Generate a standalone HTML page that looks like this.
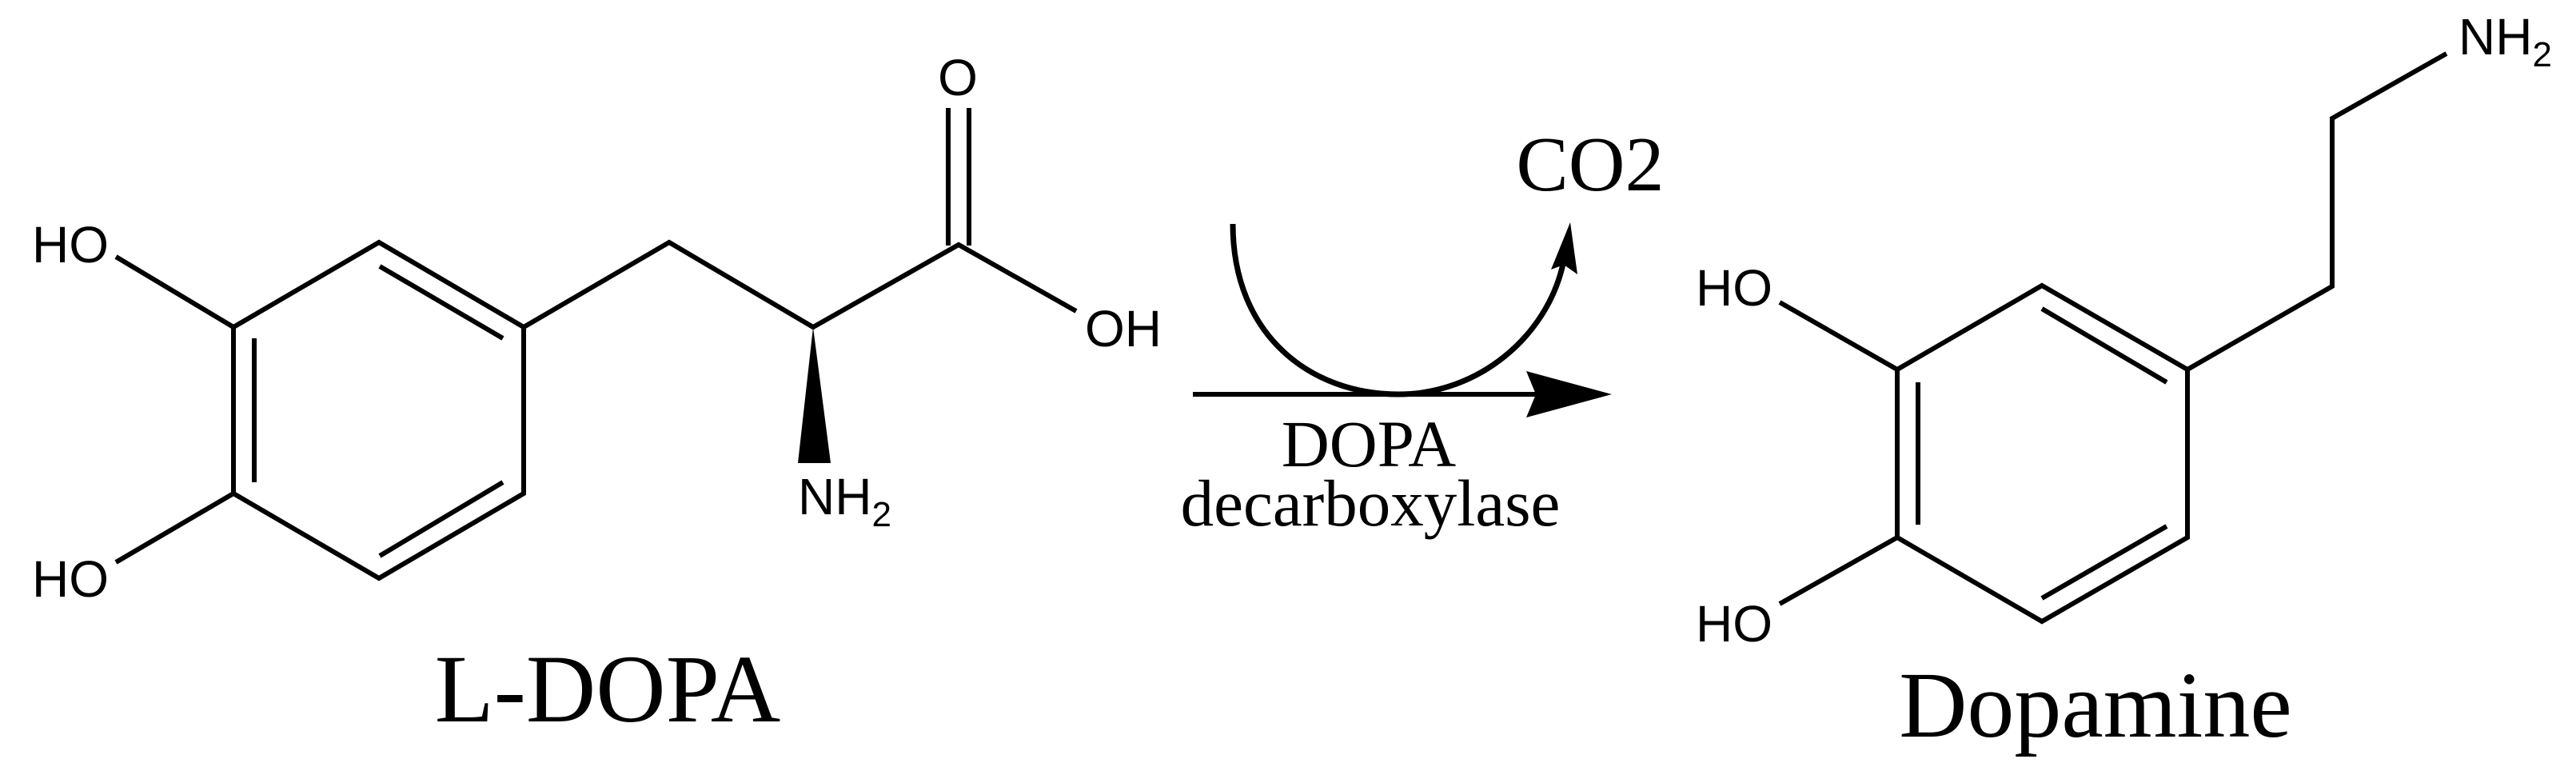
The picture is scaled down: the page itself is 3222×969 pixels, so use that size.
<!DOCTYPE html>
<html><head><meta charset="utf-8"><style>
html,body{margin:0;padding:0;background:#fff;}
svg{display:block;}
.s{font-family:"Liberation Sans",sans-serif;font-size:64px;}
.t{font-family:"Liberation Serif",serif;}
</style></head><body>
<svg width="3222" height="969" viewBox="0 0 3222 969" xmlns="http://www.w3.org/2000/svg">
<g stroke="#000" stroke-width="6" fill="none" stroke-linecap="butt" stroke-linejoin="miter">
<!-- L-DOPA ring -->
<polygon points="474,303 655,409 655,617 474,723 292,617 292,409"/>
<line x1="475" y1="333" x2="629" y2="423"/>
<line x1="318" y1="423" x2="318" y2="603"/>
<line x1="475" y1="695" x2="629" y2="603"/>
<line x1="145" y1="321" x2="292" y2="409"/>
<line x1="145" y1="703" x2="292" y2="617"/>
<polyline points="655,409 837,303 1017,409 1199,306 1346,389"/>
<line x1="1186" y1="135" x2="1186" y2="307"/>
<line x1="1212" y1="135" x2="1212" y2="307"/>
<!-- Dopamine -->
<polygon points="2554,357 2736,462 2736,672 2554,777 2373,672 2373,462"/>
<line x1="2554" y1="386" x2="2710" y2="478"/>
<line x1="2399" y1="478" x2="2399" y2="656"/>
<line x1="2554" y1="748" x2="2710" y2="658"/>
<line x1="2226" y1="378" x2="2373" y2="462"/>
<line x1="2226" y1="755" x2="2373" y2="672"/>
<polyline points="2736,462 2917,358 2917,148 3060,67"/>
<!-- arrows -->
<line x1="1492" y1="493" x2="1930" y2="493"/>
<path d="M1542 280 C1542 420 1640 493 1749 493 C1850 493 1935 420 1955 330" stroke-width="7"/>
</g>
<polygon points="1017,409 998,579 1039,579" fill="#000"/>
<polygon points="2016,493 1909,464 1921,493 1909,522" fill="#000"/>
<polygon points="1964,278 1940,337 1956,331 1973,343" fill="#000"/>
<g class="s" fill="#000">
<text x="40" y="328">HO</text>
<text x="40" y="746">HO</text>
<text x="1198" y="119" text-anchor="middle">O</text>
<text x="1357" y="433">OH</text>
<text x="998" y="643">NH<tspan font-size="44" dy="15">2</tspan></text>
<text x="2121" y="382">HO</text>
<text x="2121" y="802">HO</text>
<text x="3075" y="68">NH<tspan font-size="44" dy="15">2</tspan></text>
</g>
<g class="t" fill="#000">
<text x="760" y="902" font-size="121" text-anchor="middle">L-DOPA</text>
<text x="1989" y="238" font-size="98" text-anchor="middle">CO2</text>
<text x="1712" y="583" font-size="83" text-anchor="middle">DOPA</text>
<text x="1714" y="657" font-size="83" text-anchor="middle">decarboxylase</text>
<text x="2621" y="921" font-size="118" text-anchor="middle">Dopamine</text>
</g>
</svg>
</body></html>
